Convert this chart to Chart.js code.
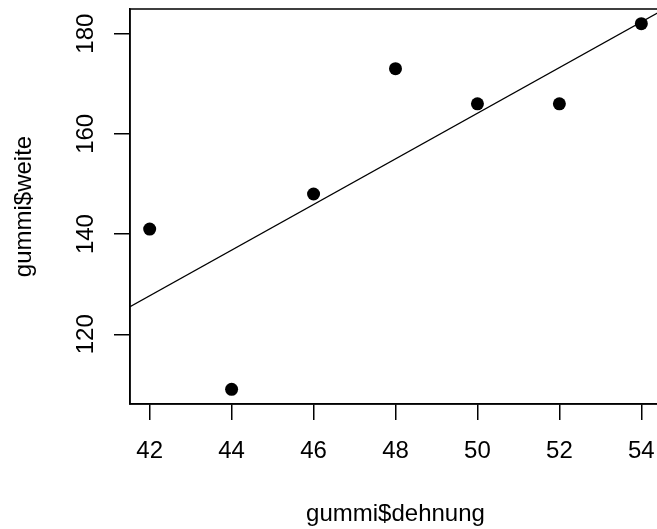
<!DOCTYPE html>
<html>
<head>
<meta charset="utf-8">
<script src="https://cdn.jsdelivr.net/npm/chart.js@4.4.1/dist/chart.umd.min.js"></script>
<style>
html,body{margin:0;padding:0;background:#fff;overflow:hidden}
#wrap{width:661px;height:529px}
</style>
</head>
<body>
<div id="wrap"><canvas id="c" width="661" height="529"></canvas></div>
<script>
// gummi data: dehnung (x) vs weite (y)
const dehnung=[42,44,46,48,50,52,54];
const weite=[141,109,148,173,166,166,182];
const xTicks=[42,44,46,48,50,52,54];
const yTicks=[120,140,160,180];

// R-style 4% range extension
const ext=a=>{const lo=Math.min(...a),hi=Math.max(...a),d=(hi-lo)*0.04;return[lo-d,hi+d];};
const [xMin,xMax]=ext(dehnung),[yMin,yMax]=ext(weite);

// least squares fit -> abline
const mx=dehnung.reduce((a,b)=>a+b)/dehnung.length;
const my=weite.reduce((a,b)=>a+b)/weite.length;
let sxy=0,sxx=0;
dehnung.forEach((x,i)=>{sxy+=(x-mx)*(weite[i]-my);sxx+=(x-mx)*(x-mx);});
const b1=sxy/sxx,b0=my-b1*mx;
const fitLine=[xMin,xMax].map(x=>({x,y:b0+b1*x}));

const FONT={family:"'Liberation Sans', Arial, Helvetica, sans-serif",size:24};

const boxPlugin={id:'box',afterDraw(ch){
  const a=ch.chartArea,g=ch.ctx;
  g.save();g.strokeStyle='#000';g.lineWidth=1.5;
  g.strokeRect(a.left,a.top,a.right-a.left,a.bottom-a.top);
  g.restore();
}};

new Chart(document.getElementById('c'),{
  type:'scatter',
  data:{datasets:[
    {type:'line',data:fitLine,borderColor:'#000',borderWidth:1.4,pointRadius:0,fill:false,order:0},
    {data:dehnung.map((x,i)=>({x,y:weite[i]})),backgroundColor:'#000',borderWidth:0,pointRadius:6.5,pointHoverRadius:6.5,order:1}
  ]},
  options:{
    responsive:false,animation:false,
    layout:{autoPadding:false,padding:{top:9,left:0,right:0,bottom:0}},
    plugins:{legend:{display:false},tooltip:{enabled:false}},
    scales:{
      x:{type:'linear',position:'bottom',min:xMin,max:xMax,
        afterBuildTicks:s=>{s.ticks=xTicks.map(v=>({value:v}));},
        afterFit:s=>{s.height=125;s.paddingLeft=0;s.paddingRight=0;},
        grid:{display:true,drawOnChartArea:false,drawTicks:true,tickLength:16,color:'#000',lineWidth:1.5},
        border:{display:true,color:'#000',width:1.5},
        ticks:{color:'#000',font:FONT,padding:17,maxRotation:0,autoSkip:false},
        title:{display:true,text:'gummi$dehnung',color:'#000',font:FONT,padding:{top:0,bottom:0}}},
      y:{type:'linear',position:'left',min:yMin,max:yMax,
        afterBuildTicks:s=>{s.ticks=yTicks.map(v=>({value:v}));},
        afterFit:s=>{s.width=130;s.paddingTop=0;s.paddingBottom=0;},
        grid:{display:true,drawOnChartArea:false,drawTicks:true,tickLength:16,color:'#000',lineWidth:1.5},
        border:{display:true,color:'#000',width:1.5},
        ticks:{color:'#000',font:FONT,padding:8,minRotation:90,maxRotation:90,crossAlign:'center',autoSkip:false},
        title:{display:true,text:'gummi$weite',color:'#000',font:FONT,padding:{top:10,bottom:0}}}
    }
  },
  plugins:[boxPlugin]
});
</script>
</body>
</html>
